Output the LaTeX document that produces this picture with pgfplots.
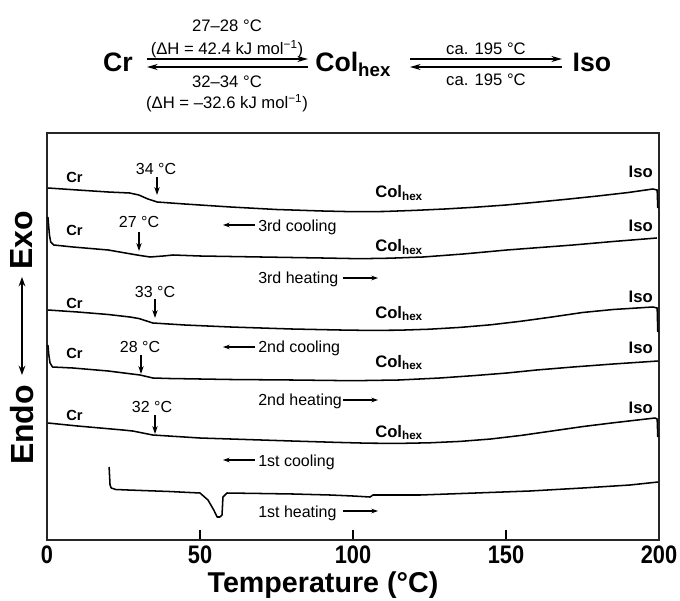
\documentclass[border=0pt]{standalone}
\usepackage{fontspec}
\setmainfont{Liberation Sans}
\newfontfamily\condfont[FakeStretch=0.86]{Liberation Sans}
\usepackage{pgfplots}
\pgfplotsset{compat=1.18}
\usetikzlibrary{arrows.meta}
\newcommand\fs[1]{\fontsize{#1}{#1}\selectfont}

% DSC traces (temperature in degC, stacked heat-flow offset in arbitrary units)
\pgfplotstableread{
x y
0.3 352
10 350
20 348
27 347
30 345
33 341
36 338
45 336
60 333
75 330.5
90 329
100 328.3
110 328.5
120 329.6
130 331
140 332.8
150 335
160 337.8
170 340.8
180 344
190 347.5
198 351
199.4 350
199.6 332
}\thirdcool
\pgfplotstableread{
x y
0.3 323
0.8 305
1.2 298
2.2 295
8.5 293
20 290
29.4 285
33.7 283
38 284
41.2 285
50 284
70 283
90 282
102.3 281.3
112 281.8
122.9 283
136 286
150.3 290
171.9 295
185 298.5
199.3 302
}\thirdheat
\pgfplotstableread{
x y
0.3 230
10 228
20 225.5
27.1 223
30 221.5
34.6 217
45 215
60 213
80 211
95.8 210
105 209.6
115 209.8
125 210.8
135 212.6
145 215.2
155 218.8
165 223
175 227.5
185 230.5
198 233
199.4 232
199.6 208
}\secondcool
\pgfplotstableread{
x y
0.3 195
0.6 185
1.0 177
1.8 173
8.5 172
20 169
30.4 165
34.6 162
40 161.5
60 160.5
80 160
100 159.3
115 160
128.4 162
140 164.5
150.3 167
160 170
171.9 173
185 176
199.7 179
}\secondheat
\pgfplotstableread{
x y
0.3 117
10 114
24.8 110
28 109
34.6 105
50 102
65 100.5
80 99
95 97.6
105 96.8
115 96.6
125 97.2
135 98.6
145 101
155 104.6
165 109
175 113.4
185 117.2
198.7 122
199.4 121
199.6 103
}\firstcool
\pgfplotstableread{
x y
20.3 73
20.6 55
21.0 52
22.5 50.5
26.5 50
40 48.5
50 47
52.6 40
54.5 30
55.6 23
56.5 23
57.2 25
57.5 43
58.8 47
70 46.5
80.4 46
92.5 45
100 44
105.6 43
106.5 45
121.9 45
140 47
157.8 49
175 52
190.5 55
199.7 58
}\firstheat

\begin{document}
\begin{tikzpicture}
\begin{axis}[
  at={(0,0)}, anchor=south west,
  scale only axis, width=459pt, height=305.25pt,
  xmin=0, xmax=200, ymin=0, ymax=407,
  xtick={0,50,100,150,200}, ytick=\empty,
  xtick pos=bottom, tick align=inside,
  major tick length=7.5pt,
  tick style={line width=0.9pt, black},
  axis line style={line width=1.3pt, black!85},
  xticklabel style={font=\condfont\bfseries\fs{19}, yshift=-1pt},
  /pgf/number format/assume math mode=true,
  clip=false,
]
\addplot[line width=1.15pt, black, line join=round] table[x=x, y=y] {\thirdcool};
\addplot[line width=1.15pt, black, line join=round] table[x=x, y=y] {\thirdheat};
\addplot[line width=1.15pt, black, line join=round] table[x=x, y=y] {\secondcool};
\addplot[line width=1.15pt, black, line join=round] table[x=x, y=y] {\secondheat};
\addplot[line width=1.15pt, black, line join=round] table[x=x, y=y] {\firstcool};
\addplot[line width=1.15pt, black, line join=round] table[x=x, y=y] {\firstheat};
\end{axis}

% annotations, laid out on a grid whose origin is the top-left corner of the figure
\begin{scope}[x=0.75pt, y=-0.75pt, shift={(-35.25pt,405pt)}]
  % phase scheme
  \node[font=\bfseries\fs{20}, anchor=base, inner sep=0] at (118,72) {Cr};
  \draw[line width=1pt, -{Stealth[length=8pt,width=4.5pt]}] (147,59) -- (308,59);
  \draw[line width=1pt, {Stealth[length=8pt,width=4.5pt]}-] (147,67) -- (308,67);
  \node[font=\fs{12.5}] at (227,26) {27–28 °C};
  \node[font=\fs{12.5}] at (227,49) {(ΔH = 42.4 kJ mol\textsuperscript{−1})};
  \node[font=\fs{12.5}] at (227,82) {32–34 °C};
  \node[font=\fs{12.5}] at (227,103) {(ΔH = –32.6 kJ mol\textsuperscript{−1})};
  \node[font=\bfseries\fs{20}, anchor=base west, inner sep=0] at (315,72) {Col\textsubscript{hex}};
  \draw[line width=1pt, -{Stealth[length=8pt,width=4.5pt]}] (410,59) -- (562,59);
  \draw[line width=1pt, {Stealth[length=8pt,width=4.5pt]}-] (410,67) -- (562,67);
  \node[font=\fs{12.5}] at (486,49) {ca. 195 °C};
  \node[font=\fs{12.5}] at (486,80) {ca. 195 °C};
  \node[font=\bfseries\fs{20}, anchor=base, inner sep=0] at (592,72) {Iso};

  % phase labels on the traces
  \foreach \yb in {183,236,308,358,420}
    \node[font=\bfseries\fs{11}, anchor=base west, inner sep=0] at (66,\yb) {Cr};
  \foreach \yb in {198,252,318,367,437}
    \node[font=\bfseries\fs{12.5}, anchor=base west, inner sep=0] at (375,\yb) {Col\textsubscript{hex}};
  \foreach \yb in {178,232,302,353,413}
    \node[font=\bfseries\fs{12.5}, anchor=base east, inner sep=0] at (653,\yb) {Iso};

  % transition temperatures
  \foreach \xx/\yb/\t in {156/175/34, 139/228/27, 155/297/33, 140/352/28, 152/412/32}
    \node[font=\fs{12}, anchor=base, inner sep=0] at (\xx,\yb) {\t\ °C};
  \foreach \xx/\ya/\yc in {157/177/195, 139/232/251, 155/299/318, 141/355/374, 155/415/434}
    \draw[line width=0.9pt, -{Stealth[length=6pt,width=4pt]}] (\xx,\ya) -- (\xx,\yc);

  % scan direction labels
  \foreach \yb/\ya/\t in {232/225/3rd cooling, 352/347/2nd cooling, 466/460/1st cooling} {
    \node[font=\fs{12}, anchor=base west, inner sep=0] at (258,\yb) {\t};
    \draw[line width=0.8pt, -{Stealth[length=5pt,width=3.5pt]}] (255,\ya) -- (223,\ya);
  }
  \foreach \yb/\ya/\t in {283/278/3rd heating, 405/400/2nd heating, 517/511/1st heating} {
    \node[font=\fs{12}, anchor=base west, inner sep=0] at (258,\yb) {\t};
    \draw[line width=0.8pt, -{Stealth[length=5pt,width=3.5pt]}] (343,\ya) -- (378,\ya);
  }

  % vertical heat-flow direction label
  \node[font=\bfseries\fs{24}, rotate=90] at (22,240) {Exo};
  \node[font=\bfseries\fs{24}, rotate=90] at (22,425) {Endo};
  \draw[line width=1.2pt, {Stealth[length=7pt,width=5pt]}-{Stealth[length=7pt,width=5pt]}] (22,277) -- (22,375);

  % temperature axis title
  \node[font=\bfseries\fs{21.5}] at (323,585) {Temperature (°C)};

  \pgfresetboundingbox
  \path[use as bounding box] (0,0) rectangle (680,600);
\end{scope}
\end{tikzpicture}
\end{document}
